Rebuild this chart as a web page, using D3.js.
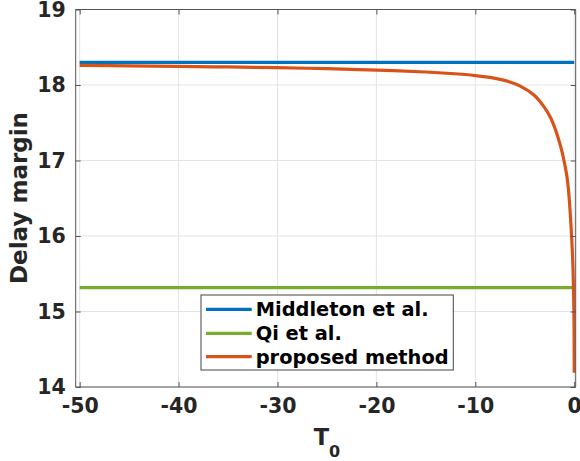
<!DOCTYPE html>
<html><head><meta charset="utf-8">
<script src="https://cdn.jsdelivr.net/npm/d3@7"></script>
<style>
body{margin:0;background:#fff;}
svg{display:block;font-family:"DejaVu Sans",sans-serif;font-weight:bold;}
</style></head>
<body><svg id="c" width="580" height="461"></svg>
<script>
const xTicks = [-50, -40, -30, -20, -10, 0];
const yTicks = [14, 15, 16, 17, 18, 19];
const seriesNames = ["Middleton et al.", "Qi et al.", "proposed method"];
const seriesColors = ["#0072BD", "#77AC30", "#D95319"];
const middletonT = [-50, 0];
const middletonV = [18.30, 18.30];
const qiT = [-50, 0];
const qiV = [15.315, 15.315];
const proposedT = [-50, -45, -40, -35, -30, -25, -20, -15, -12.5, -10, -8.5, -7.5, -6.5, -5.45, -4.1, -3.1, -2.4, -1.9, -1.4, -1.1, -0.75, -0.58, -0.34, -0.17, -0.07, -0.02, 0];
const proposedV = [18.26, 18.253, 18.246, 18.239, 18.23, 18.216, 18.198, 18.172, 18.152, 18.125, 18.10, 18.075, 18.04, 17.985, 17.87, 17.72, 17.57, 17.41, 17.20, 17.04, 16.80, 16.61, 16.17, 15.73, 15.29, 14.85, 14.19];

const svg = d3.select("#c");
const L = 75.7, R = 575.7, T = 9.5, B = 387;
const x = d3.scaleLinear().domain([-50.4, 0.15]).range([L, R]);
const y = d3.scaleLinear().domain([14, 19]).range([B, T]);
const txt = "#262626";

// grid
const g = svg.append("g");
g.selectAll(".vg").data(xTicks).enter().append("line")
  .attr("x1", d => x(d)).attr("x2", d => x(d)).attr("y1", T).attr("y2", B)
  .attr("stroke", "#e3e3e3").attr("stroke-width", 1);
g.selectAll(".hg").data(yTicks).enter().append("line")
  .attr("x1", L).attr("x2", R).attr("y1", d => y(d)).attr("y2", d => y(d))
  .attr("stroke", "#e3e3e3").attr("stroke-width", 1);

// data lines
const straight = d3.line().x(d => x(d[0])).y(d => y(d[1]));
const smooth = d3.line().x(d => x(d[0])).y(d => y(d[1])).curve(d3.curveCatmullRom.alpha(0.5));
const series = [
  d3.zip(middletonT, middletonV),
  d3.zip(qiT, qiV),
  d3.zip(proposedT, proposedV)
];
svg.append("clipPath").attr("id", "cp").append("rect")
  .attr("x", L).attr("y", T).attr("width", R - L).attr("height", B - T);
series.forEach((s, i) => {
  svg.append("path").datum(s)
    .attr("d", (i === 2 ? smooth : straight)(s))
    .attr("fill", "none").attr("stroke", seriesColors[i]).attr("stroke-width", 3.2)
    .attr("clip-path", "url(#cp)");
});

// axes (box with inward ticks)
const fmt = d => String(d);
const axB = d3.axisBottom(x).tickValues(xTicks).tickSize(-5).tickPadding(11).tickFormat(fmt);
const axT = d3.axisTop(x).tickValues(xTicks).tickSize(-5).tickFormat("");
const axLft = d3.axisLeft(y).tickValues(yTicks).tickSize(-5).tickPadding(10).tickFormat(fmt);
const axRt = d3.axisRight(y).tickValues(yTicks).tickSize(-5).tickFormat("");
function style(sel){
  sel.select(".domain").attr("stroke", "#555").attr("stroke-width", 1);
  sel.selectAll(".tick line").attr("stroke", "#555").attr("stroke-width", 1);
  sel.selectAll(".tick text").attr("fill", txt).attr("font-size", 20.5)
    .attr("font-family", "DejaVu Sans").attr("font-weight", "bold");
}
svg.append("g").attr("transform", `translate(0,${B})`).call(axB).call(style).call(s => s.select(".domain").attr("d", `M${L},0H${R}`));
svg.append("g").attr("transform", `translate(0,${T})`).call(axT).call(style).call(s => s.select(".domain").attr("d", `M${L},0H${R}`));
svg.append("g").attr("transform", `translate(${L},0)`).call(axLft).call(style).call(s => s.select(".domain").attr("d", `M0,${T}V${B}`));
svg.append("g").attr("transform", `translate(${R},0)`).call(axRt).call(style).call(s => s.select(".domain").attr("d", `M0,${T}V${B}`));

// axis labels
const xl = svg.append("text").attr("x", 327).attr("y", 444.5).attr("text-anchor", "middle")
  .attr("fill", txt).attr("font-size", 22.5);
xl.append("tspan").text("T");
xl.append("tspan").attr("font-size", 16).attr("dy", 12).text("0");
svg.append("text").attr("transform", "translate(27,198) rotate(-90)")
  .attr("text-anchor", "middle").attr("fill", txt).attr("font-size", 23).text("Delay margin");

// legend
const lg = svg.append("g");
lg.append("rect").attr("x", 201).attr("y", 295).attr("width", 252.3).attr("height", 75)
  .attr("fill", "#fff").attr("stroke", "#444").attr("stroke-width", 1);
const rowY = [309.3, 333.3, 356.7];
seriesNames.forEach((n, i) => {
  lg.append("line").attr("x1", 206).attr("x2", 251.7).attr("y1", rowY[i]).attr("y2", rowY[i])
    .attr("stroke", seriesColors[i]).attr("stroke-width", 3.2);
  lg.append("text").attr("x", 255.7).attr("y", rowY[i]).attr("dy", "0.36em")
    .attr("fill", "#000").attr("font-size", 19.4).text(n);
});
</script></body></html>
